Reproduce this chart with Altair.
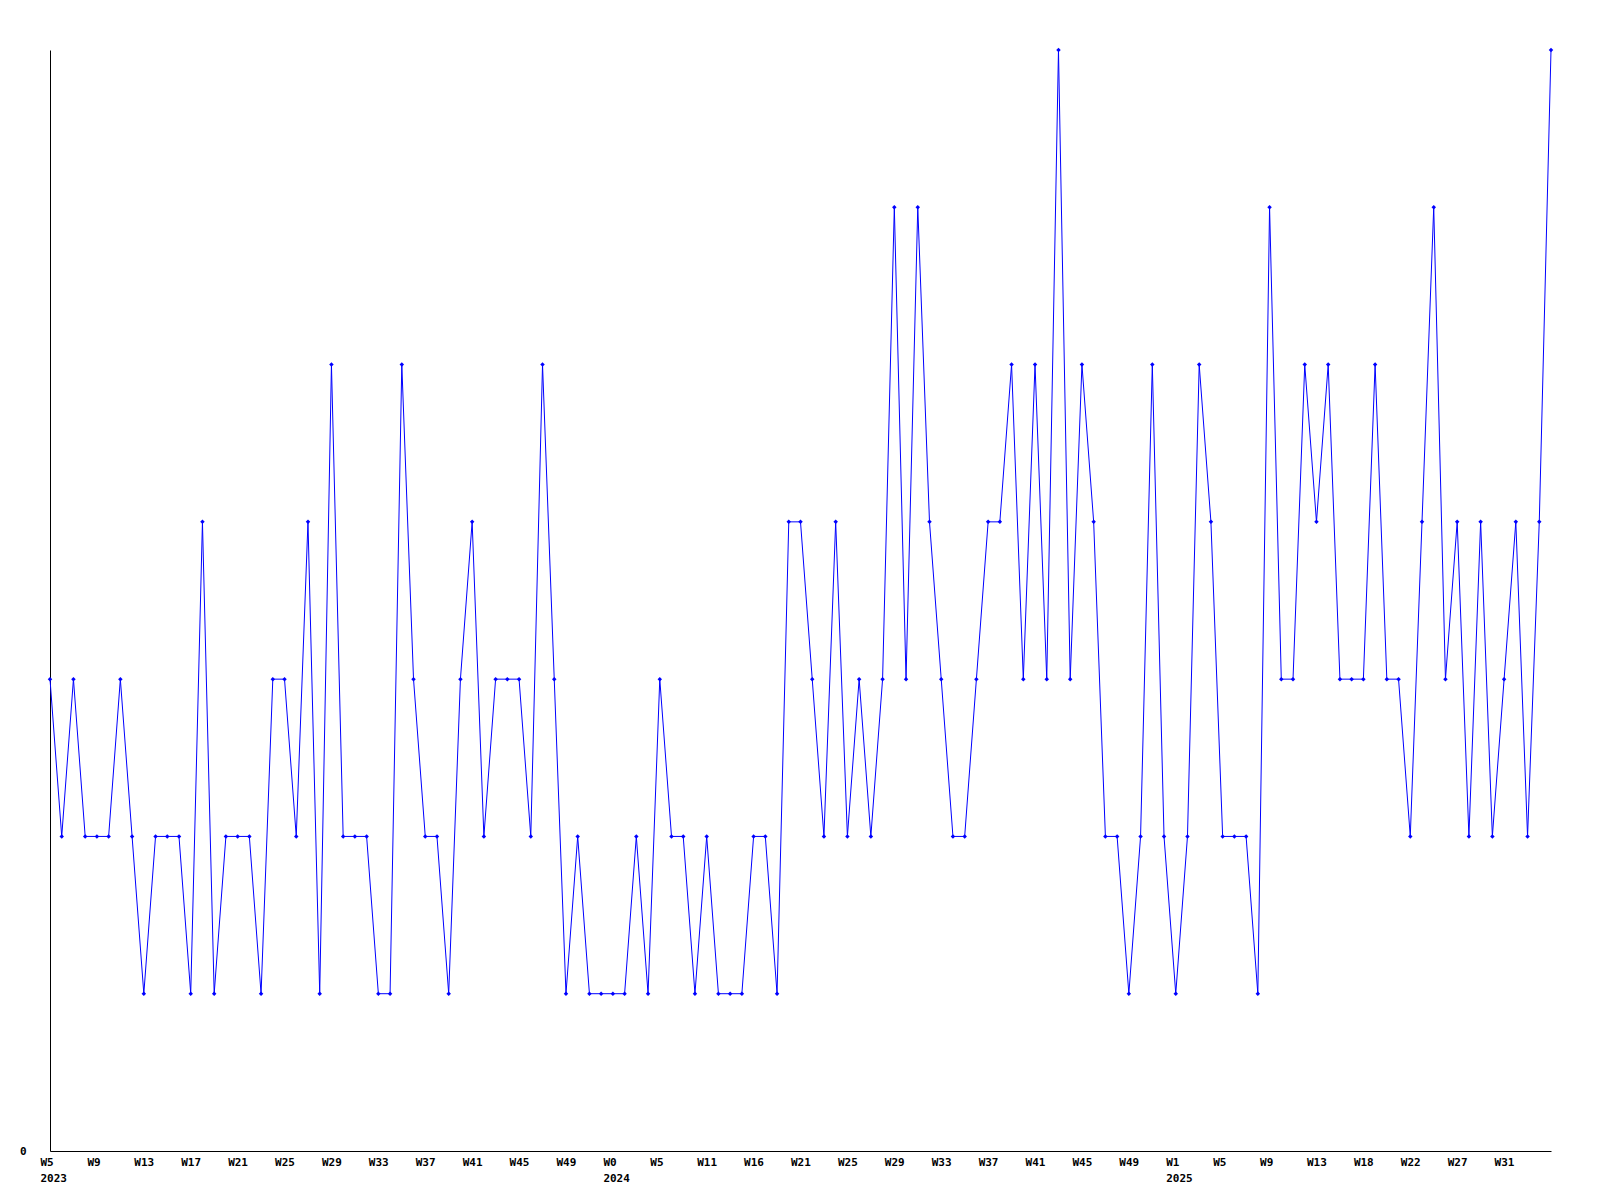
import altair as alt
import pandas as pd

values = [3, 2, 3, 2, 2, 2, 3, 2, 1, 2, 2, 2, 1, 4, 1, 2, 2, 2, 1, 3,
          3, 2, 4, 1, 5, 2, 2, 2, 1, 1, 5, 3, 2, 2, 1, 3, 4, 2, 3, 3,
          3, 2, 5, 3, 1, 2, 1, 1, 1, 1, 2, 1, 3, 2, 2, 1, 2, 1, 1, 1,
          2, 2, 1, 4, 4, 3, 2, 4, 2, 3, 2, 3, 6, 3, 6, 4, 3, 2, 2, 3,
          4, 4, 5, 3, 5, 3, 7, 3, 5, 4, 2, 2, 1, 2, 5, 2, 1, 2, 5, 4,
          2, 2, 2, 1, 6, 3, 3, 5, 4, 5, 3, 3, 3, 5, 3, 3, 2, 4, 6, 3,
          4, 2, 4, 2, 3, 4, 2, 4, 7]

week_labels = ["W5", "W9", "W13", "W17", "W21", "W25", "W29", "W33", "W37", "W41",
               "W45", "W49", "W0", "W5", "W11", "W16", "W21", "W25", "W29", "W33",
               "W37", "W41", "W45", "W49", "W1", "W5", "W9", "W13", "W18", "W22",
               "W27", "W31"]
year_labels = {0: "2023", 12: "2024", 24: "2025"}
label_every = 4

df = pd.DataFrame({"idx": list(range(len(values))), "value": values})

tick_vals = [i * label_every for i in range(len(week_labels))]
parts = []
for i, w in enumerate(week_labels):
    if i in year_labels:
        parts.append("['%s','%s']" % (w, year_labels[i]))
    else:
        parts.append("'%s'" % w)
label_expr = "[" + ",".join(parts) + "][round(datum.value/%d)]" % label_every

FONT = "DejaVu Sans Mono"

x = alt.X("idx:Q",
          scale=alt.Scale(domain=[0, len(values) - 1], nice=False, zero=False),
          axis=alt.Axis(values=tick_vals, labelExpr=label_expr, title=None,
                        ticks=False, grid=False, domainColor="black",
                        labelAlign="left", labelOffset=-10, labelBaseline="top",
                        labelPadding=5, labelLineHeight=16,
                        labelFont=FONT, labelFontWeight="bold", labelFontSize=11,
                        labelColor="black", labelOverlap=False, labelFlush=False))
y = alt.Y("value:Q",
          scale=alt.Scale(domain=[0, 7], nice=False),
          axis=alt.Axis(values=[0], title=None, ticks=False, grid=False,
                        domainColor="black", labelPadding=24,
                        labelFont=FONT, labelFontWeight="bold", labelFontSize=11,
                        labelColor="black"))

line = alt.Chart(df).mark_line(color="#0000ff", strokeWidth=1, clip=False).encode(x=x, y=y)
pts = alt.Chart(df).mark_point(shape="diamond", filled=True, color="#0000ff",
                               size=20, opacity=1, clip=False).encode(x=x, y=y)

chart = (line + pts).properties(
    width=1501, height=1101,
    autosize=alt.AutoSizeParams(type="none"),
    padding={"left": 42, "top": 42, "right": 30, "bottom": 40},
    background="white",
).configure_view(stroke=None, strokeWidth=0)

chart.save("out.html", embed_options={"renderer": "svg", "actions": False})
